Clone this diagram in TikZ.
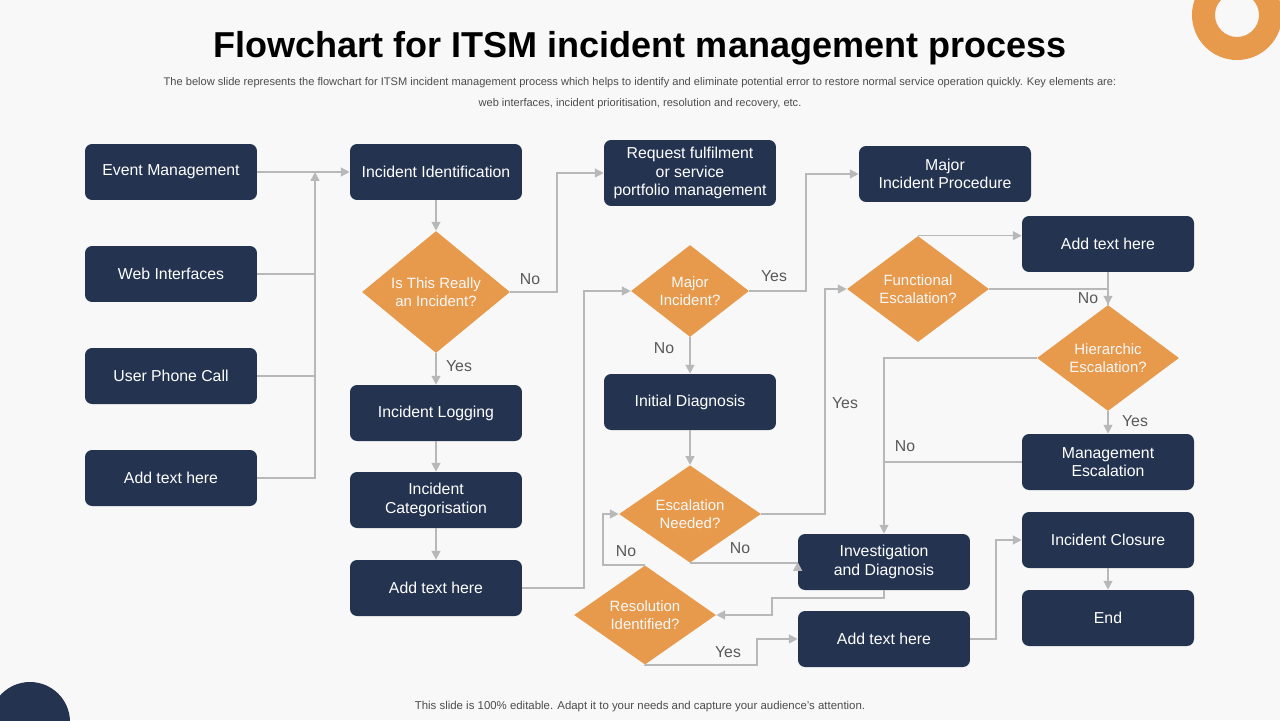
\documentclass[tikz,border=0pt]{standalone}
\usepackage{fontspec}
\setmainfont{Liberation Sans}
\usetikzlibrary{shapes.geometric,arrows.meta}
\definecolor{navy}{HTML}{243350}
\definecolor{orng}{HTML}{E79A4C}
\definecolor{lgray}{HTML}{B8B8B8}
\definecolor{bgc}{HTML}{F8F8F8}
\begin{document}
\begin{tikzpicture}[
x=0.02cm,y=-0.02cm,
>={Triangle[length=5pt,width=5pt]},
line/.style={draw=lgray,line width=0.9pt},
arr/.style={line,->},
box/.style={draw=none,fill=navy,rounded corners=4pt,text=white,minimum width=3.44cm,minimum height=1.12cm,align=center,font=\fontsize{9}{10.5}\selectfont},
dia/.style={diamond,fill=orng,text=bgc,inner sep=0pt,align=center,font=\fontsize{8.5}{10}\selectfont},
lbl/.style={text=black!65,font=\fontsize{9}{10}\selectfont},
]
\useasboundingbox[fill=bgc] (0,0) rectangle (1280,720);

% decorations
\fill[orng,even odd rule] (1237,15) circle (45*0.02cm) (1237,15) circle (22*0.02cm);
\fill[navy] (30,722) circle (40*0.02cm);

% title
\node (title) at (640,48) {\fontsize{20.5}{24}\selectfont\bfseries Flowchart for ITSM incident management process};
\node[align=center,text=black!70] (sub) at (640,93) {\fontsize{6.3}{7.5}\selectfont The below slide represents the flowchart for ITSM\ incident management process which helps to identify and eliminate potential error to restore normal service operation quickly. Key elements are:\\\fontsize{6.3}{7.5}\selectfont web interfaces, incident prioritisation, resolution and recovery, etc.};
\node[text=black!70] (foot) at (640,707) {\fontsize{6.5}{8}\selectfont This slide is 100\% editable. Adapt it to your needs and capture your audience's attention.};

% sources
\node[box] (evt) at (171,172) {Event Management};
\node[box] (web) at (171,274) {Web Interfaces};
\node[box] (phone) at (171,376) {User Phone Call};
\node[box] (src4) at (171,478) {Add text here};

% identification
\node[box] (ident) at (436,172) {Incident Identification};
\node[dia,minimum width=2.96cm,minimum height=2.44cm] (really) at (436,292) {Is This Really\\an Incident?};
\node[box] (logg) at (436,413) {Incident Logging};
\node[box] (categ) at (436,500) {Incident\\Categorisation};
\node[box] (add2) at (436,588) {Add text here};

% diagnosis
\node[box,minimum height=1.32cm] (req) at (690,173) {Request fulfilment\\or service\\portfolio management};
\node[dia,minimum width=2.36cm,minimum height=1.84cm] (major) at (690,291) {Major\\Incident?};
\node[box] (initd) at (690,402) {Initial Diagnosis};
\node[dia,minimum width=2.84cm,minimum height=1.88cm] (escn) at (690,514) {Escalation\\Needed?};
\node[dia,minimum width=2.84cm,minimum height=1.76cm] (resol) at (645,615) {Resolution\\Identified?};

% escalation
\node[box] (mproc) at (945,174) {Major\\Incident Procedure};
\node[dia,minimum width=2.84cm,minimum height=2.12cm] (func) at (918,289) {Functional\\Escalation?};
\node[box] (inv) at (884,562) {Investigation\\and Diagnosis};
\node[box] (add4) at (884,639) {Add text here};

% closure
\node[box] (add5) at (1108,244) {Add text here};
\node[dia,minimum width=2.84cm,minimum height=2.12cm] (hier) at (1108,358) {Hierarchic\\Escalation?};
\node[box] (mgmt) at (1108,462) {Management\\Escalation};
\node[box] (close) at (1108,540) {Incident Closure};
\node[box] (endn) at (1108,618) {End};

% connectors
\path[arr] (evt) -- (ident);
\path[line] (web.east) -| (315,274);
\path[line] (phone.east) -| (315,376);
\path[arr] (src4.east) -| (315,172);
\path[arr] (ident) -- (really);
\path[arr] (really.east) -- (557,292) |- (req.west);
\path[arr] (really) -- (logg);
\path[arr] (logg) -- (categ);
\path[arr] (categ) -- (add2);
\path[arr] (add2.east) -- (584,588) |- (major.west);
\path[arr] (major.east) -- (806,291) |- (mproc.west);
\path[arr] (major) -- (initd);
\path[arr] (initd) -- (escn);
\path[arr] (escn.east) -- (825,514) |- (func.west);
\path[arr] (escn.south) -- (inv.west |- escn.south) -- (inv.west);
\path[arr] (inv.south) |- (772,598) |- (resol.east);
\path[arr] (resol.north) -| (603,514) -- (escn.west);
\path[arr] (resol.south) |- (757,665) |- (add4.west);
\path[arr] (add4.east) -| (996,540) -- (close.west);
\path[arr] (func.north) -- (add5.west |- func.north);
\path[arr] (func.east) -| (hier.north);
\path[line] (add5) -- (hier.north);
\path[arr] (hier.west) -| (inv.north);
\path[line] (mgmt.west) -- (885,462);
\path[arr] (hier) -- (mgmt);
\path[arr] (close) -- (endn);

% labels
\node[lbl] (l1) at (530,279) {No};
\node[lbl] (l2) at (459,366) {Yes};
\node[lbl] (l3) at (774,276) {Yes};
\node[lbl] (l4) at (664,348) {No};
\node[lbl] (l5) at (845,403) {Yes};
\node[lbl] (l6) at (740,548) {No};
\node[lbl] (l7) at (626,551) {No};
\node[lbl] (l8) at (728,652) {Yes};
\node[lbl] (l9) at (1088,298) {No};
\node[lbl] (l10) at (905,446) {No};
\node[lbl] (l11) at (1135,421) {Yes};
\end{tikzpicture}
\end{document}
